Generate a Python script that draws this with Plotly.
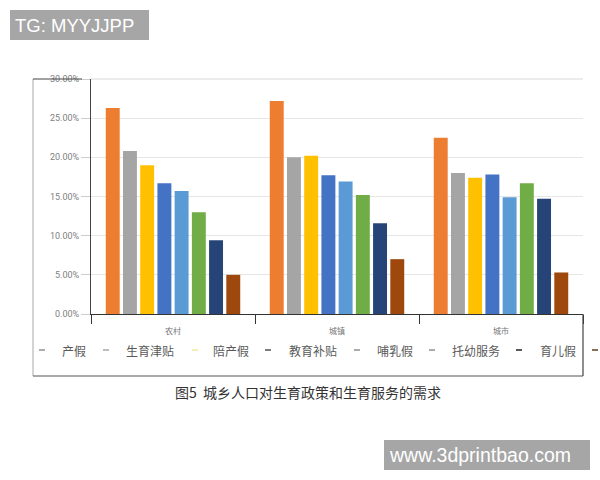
import plotly.graph_objects as go

# values
regions = ["农村", "城镇", "城市"]
series_names = ["产假", "生育津贴", "陪产假", "教育补贴", "哺乳假", "托幼服务", "育儿假", ""]
chanjia = [26.3, 27.2, 22.5]
jintie = [20.8, 20.0, 18.0]
peichan = [19.0, 20.2, 17.4]
jiaoyu = [16.7, 17.7, 17.8]
buru = [15.7, 16.9, 14.9]
tuoyou = [13.0, 15.2, 16.7]
yuer = [9.4, 11.6, 14.7]
last_series = [5.0, 7.0, 5.3]
all_series = [chanjia, jintie, peichan, jiaoyu, buru, tuoyou, yuer, last_series]
y_ticks = [0, 5, 10, 15, 20, 25, 30]
y_labels = ["0.00%", "5.00%", "10.00%", "15.00%", "20.00%", "25.00%", "30.00%"]

bar_colors = ["#ed7d31", "#a5a5a5", "#ffc000", "#4472c4", "#5b9bd5", "#70ad47", "#264478", "#9e480e"]
dash_colors = ["#909090", "#a8a8a8", "#f0e8a0", "#505050", "#909090", "#909090", "#202020", "#604020"]
dash_x = [42, 106, 195, 268, 357, 432, 519, 595]
name_x = [60, 124, 211, 287, 375, 450, 538]

W, H = 600, 480
CJK = "Noto Sans CJK SC"


def px(x):
    return x / W


def py(y):
    return 1 - y / H


fig = go.Figure()
for name, vals, col in zip(series_names, all_series, bar_colors):
    fig.add_trace(go.Bar(x=regions, y=vals, name=name, marker_color=col, marker_line_width=0))

fig.update_layout(
    width=W, height=H,
    margin=dict(l=0, r=0, t=0, b=0),
    paper_bgcolor="white", plot_bgcolor="white",
    showlegend=False,
    barmode="group", bargap=0.16, bargroupgap=0.19,
    font=dict(family=CJK, color="#666666"),
)
fig.update_xaxes(
    automargin=False,
    domain=[px(91), px(583)],
    tickson="boundaries", ticks="outside", ticklen=9, tickwidth=1.2, tickcolor="#333333",
    ticklabelstandoff=9,
    showline=True, linecolor="#333333", linewidth=1.2,
    tickfont=dict(size=8, color="#777777"),
)
fig.update_yaxes(
    automargin=False,
    domain=[py(314), py(79)],
    range=[0, 30], tickvals=y_ticks, ticktext=y_labels,
    ticks="outside", ticklen=9, tickcolor="#cccccc",
    showline=True, linecolor="#444444", linewidth=1.2,
    showgrid=True, gridcolor="#e6e6e6", gridwidth=1,
    zeroline=False,
    tickfont=dict(size=9, family="Roboto", color="#808080"),
)

# outer frame of the pasted chart
frame = [
    (33, 79, 33, 376, "#a8a8a8", 1),
    (33, 376, 583, 376, "#555555", 1.2),
    (583, 314, 583, 376, "#444444", 1.2),
    (33, 79, 82, 79, "#444444", 1.2),
    (91, 79, 583, 79, "#d8d8d8", 1),
]
for x0, y0, x1, y1, c, w in frame:
    fig.add_shape(type="line", xref="paper", yref="paper",
                  x0=px(x0), y0=py(y0), x1=px(x1), y1=py(y1),
                  line=dict(color=c, width=w))

# hand placed legend row, the last label is cut off in the original
for x, c in zip(dash_x, dash_colors):
    fig.add_shape(type="line", xref="paper", yref="paper",
                  x0=px(x - 3), y0=py(350), x1=px(x + 3), y1=py(350),
                  line=dict(color=c, width=1.5))
for x, name in zip(name_x, series_names[:7]):
    fig.add_annotation(text=name, xref="paper", yref="paper", x=px(x), y=py(350),
                       xanchor="left", yanchor="middle", showarrow=False,
                       font=dict(size=12, family=CJK, color="#5a5a5a"))

fig.add_annotation(text="图5  城乡人口对生育政策和生育服务的需求", xref="paper", yref="paper",
                   x=px(308), y=py(392), xanchor="center", yanchor="middle", showarrow=False,
                   font=dict(size=14, family=CJK, color="#333333"))

# watermarks
for x0, y0, x1, y1, text, size in [(10, 10, 149, 40, "TG: MYYJJPP", 18.5),
                                   (384, 440, 590, 470, "www.3dprintbao.com", 19.5)]:
    fig.add_shape(type="rect", xref="paper", yref="paper",
                  x0=px(x0), y0=py(y0), x1=px(x1), y1=py(y1),
                  fillcolor="#a6a6a6", line_width=0, layer="above")
    fig.add_annotation(text=text, xref="paper", yref="paper", x=px(x0 + 3), y=py((y0 + y1) / 2),
                       xanchor="left", yanchor="middle", showarrow=False,
                       font=dict(size=size, family="Liberation Sans", color="white"))

fig.write_html("out.html", config=dict(displayModeBar=False),
               post_script="document.body.style.margin='0';")
